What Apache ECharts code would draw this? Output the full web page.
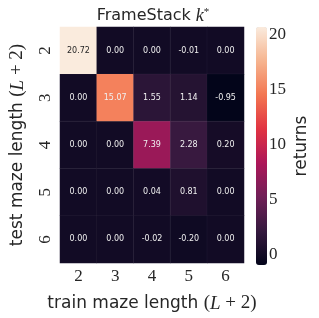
<!DOCTYPE html>
<html><head><meta charset="utf-8">
<script src="https://cdn.jsdelivr.net/npm/echarts@6/dist/echarts.min.js"></script>
<style>html,body{margin:0;padding:0;background:#fff}#c{width:319px;height:318px}</style>
</head><body><div id="c"></div>
<script>
const trainLengths = ['2','3','4','5','6'];
const testLengths = ['2','3','4','5','6'];
const row2 = [20.72, 0.00, 0.00, -0.01, 0.00];
const row3 = [0.00, 15.07, 1.55, 1.14, -0.95];
const row4 = [0.00, 0.00, 7.39, 2.28, 0.20];
const row5 = [0.00, 0.00, 0.04, 0.81, 0.00];
const row6 = [0.00, 0.00, -0.02, -0.20, 0.00];
const colorbarTicks = [0, 5, 10, 15, 20];
const rows = [row2, row3, row4, row5, row6];

const rocket = ['#03051a','#35193e','#701f57','#ad1759','#e13342','#f37651','#f6b48f','#faebdd'];
let all = [].concat(...rows);
const vmin = Math.min(...all), vmax = Math.max(...all);

const data = [];
rows.forEach((r, yi) => r.forEach((v, xi) => {
  const norm = (v - vmin) / (vmax - vmin);
  data.push({value: [xi, yi, v], label: {color: norm > 0.8 ? '#262626' : '#f0f0f0'}});
}));

const serif = "'Liberation Serif', 'DejaVu Serif', serif";
const sans = "'DejaVu Sans', sans-serif";

const chart = echarts.init(document.getElementById('c'));
chart.setOption({
  animation: false,
  title: {
    text: '{a|FrameStack }{k|k}{s|*}',
    left: 148, top: 2, textAlign: 'center',
    textStyle: {
      fontWeight: 'normal',
      rich: {
        a: {fontFamily: sans, fontSize: 16, color: '#262626', fontWeight: 'normal'},
        k: {fontFamily: serif, fontStyle: 'italic', fontSize: 18, color: '#262626', fontWeight: 'normal'},
        s: {fontFamily: serif, fontSize: 11, color: '#262626', fontWeight: 'normal', verticalAlign: 'top', padding: [0,0,6,0]}
      }
    }
  },
  grid: [
    {left: 53, top: 27, width: 191, height: 238},
    {left: 256, top: 27, width: 11, height: 238}
  ],
  xAxis: [
    {type: 'category', data: trainLengths, gridIndex: 0,
     axisLine: {show: false}, axisTick: {show: false}, splitLine: {show: false},
     axisLabel: {fontFamily: serif, fontSize: 17, color: '#262626', margin: 5},
     name: '{a|train maze length }{b|(}{c|L}{b| + 2)}', nameLocation: 'middle', nameGap: 31,
     nameTextStyle: {rich: {
       a: {fontFamily: sans, fontSize: 17, color: '#262626'},
       b: {fontFamily: serif, fontSize: 19, color: '#262626'},
       c: {fontFamily: serif, fontStyle: 'italic', fontSize: 19, color: '#262626'}
     }}},
    {type: 'value', gridIndex: 1, show: false, min: 0, max: 1}
  ],
  yAxis: [
    {type: 'category', data: testLengths, gridIndex: 0, inverse: true,
     axisLine: {show: false}, axisTick: {show: false}, splitLine: {show: false},
     axisLabel: {fontFamily: serif, fontSize: 17, color: '#262626', rotate: 90, margin: 6},
     name: '{a|test maze length }{b|(}{c|L}{b| + 2)}', nameLocation: 'middle', nameGap: 33, nameRotate: 90,
     nameTextStyle: {rich: {
       a: {fontFamily: sans, fontSize: 17, color: '#262626'},
       b: {fontFamily: serif, fontSize: 19, color: '#262626'},
       c: {fontFamily: serif, fontStyle: 'italic', fontSize: 19, color: '#262626'}
     }}},
    {type: 'value', gridIndex: 1, position: 'right', min: vmin, max: vmax,
     axisLine: {show: false}, splitLine: {show: false},
     axisTick: {show: true, customValues: colorbarTicks, length: 3, lineStyle: {color: '#262626', width: 0.8}},
     axisLabel: {customValues: colorbarTicks, fontFamily: serif, fontSize: 17, color: '#262626', margin: 2},
     name: 'returns', nameLocation: 'middle', nameRotate: 90, nameGap: 26,
     nameTextStyle: {fontFamily: sans, fontSize: 17, color: '#262626'}}
  ],
  visualMap: {
    type: 'continuous', min: vmin, max: vmax, seriesIndex: 0,
    calculable: false, show: true, orient: 'vertical',
    left: 256, top: 27, itemWidth: 11, itemHeight: 238, padding: 0,
    text: null, showLabel: false,
    inRange: {color: rocket}
  },
  series: [{
    type: 'heatmap', xAxisIndex: 0, yAxisIndex: 0, data: data,
    itemStyle: {borderColor: 'rgba(255,255,255,0.08)', borderWidth: 0.5},
    label: {show: true, fontFamily: sans, fontSize: 8,
      formatter: p => p.value[2].toFixed(2)},
    emphasis: {disabled: true}
  }]
});
</script></body></html>
